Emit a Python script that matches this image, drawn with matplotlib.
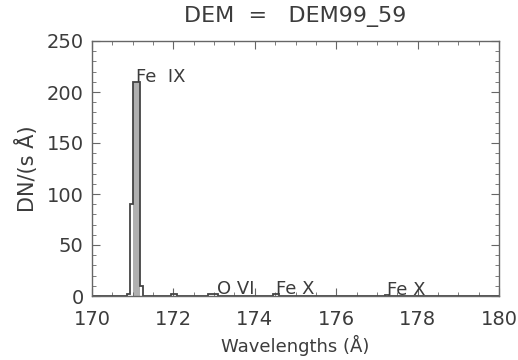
import matplotlib
matplotlib.use('Agg')
import matplotlib.pyplot as plt
from matplotlib.ticker import MultipleLocator

plt.rcParams['font.family'] = ['DejaVu Sans']
plt.rcParams['font.size'] = 14

# histogram of the synthetic spectrum (bin edges in A, DN/(s A))
edges = [170.0, 170.85, 170.93, 171.015, 171.10, 171.18, 171.265,
         171.95, 172.10, 172.85, 173.10, 174.45, 174.60, 177.20, 177.30, 180.0]
counts = [0, 2, 90, 210, 210, 10, 0, 1.5, 0, 1.5, 0, 1.5, 0, 0.5, 0]

# line identifications
line_names = ['Fe  IX', 'O VI', 'Fe X', 'Fe X']
line_waves = [171.07, 173.08, 174.53, 177.24]
line_peaks = [210, 1.5, 1.5, 0.5]

ink = '#3c3c3c'

fig = plt.figure(figsize=(5.18, 3.6), dpi=100)
ax = fig.add_axes([92 / 518, 64 / 360, 407 / 518, 255 / 360])

# strongest bins shaded grey
ax.stairs(counts[3:5], edges[3:6], fill=True, color='#b0b0b0', zorder=1)
ax.stairs(counts, edges, color='#444444', linewidth=1.3, zorder=2)

for name, w, p in zip(line_names, line_waves, line_peaks):
    ax.text(w, p, name, ha='left', va='baseline', color=ink, fontsize=13)

ax.set_xlim(170, 180)
ax.set_ylim(0, 250)
ax.xaxis.set_major_locator(MultipleLocator(2))
ax.xaxis.set_minor_locator(MultipleLocator(0.5))
ax.yaxis.set_major_locator(MultipleLocator(50))
ax.yaxis.set_minor_locator(MultipleLocator(10))

ax.tick_params(which='both', direction='in', top=True, right=True,
               color='#666666', labelcolor=ink, labelsize=14)
ax.tick_params(axis='x', which='major', length=6, pad=10)
ax.tick_params(axis='y', which='major', length=6, pad=6)
ax.tick_params(which='minor', length=3)
for s in ax.spines.values():
    s.set_color('#666666')
    s.set_linewidth(1.0)

ax.set_title('DEM  =   DEM99_59', fontsize=16, color=ink, pad=14)
ax.set_xlabel('Wavelengths (Å)', fontsize=13, color=ink, labelpad=4)
ax.set_ylabel('DN/(s Å)', fontsize=15, color=ink, labelpad=6)

fig.savefig('out.png', dpi=100)
